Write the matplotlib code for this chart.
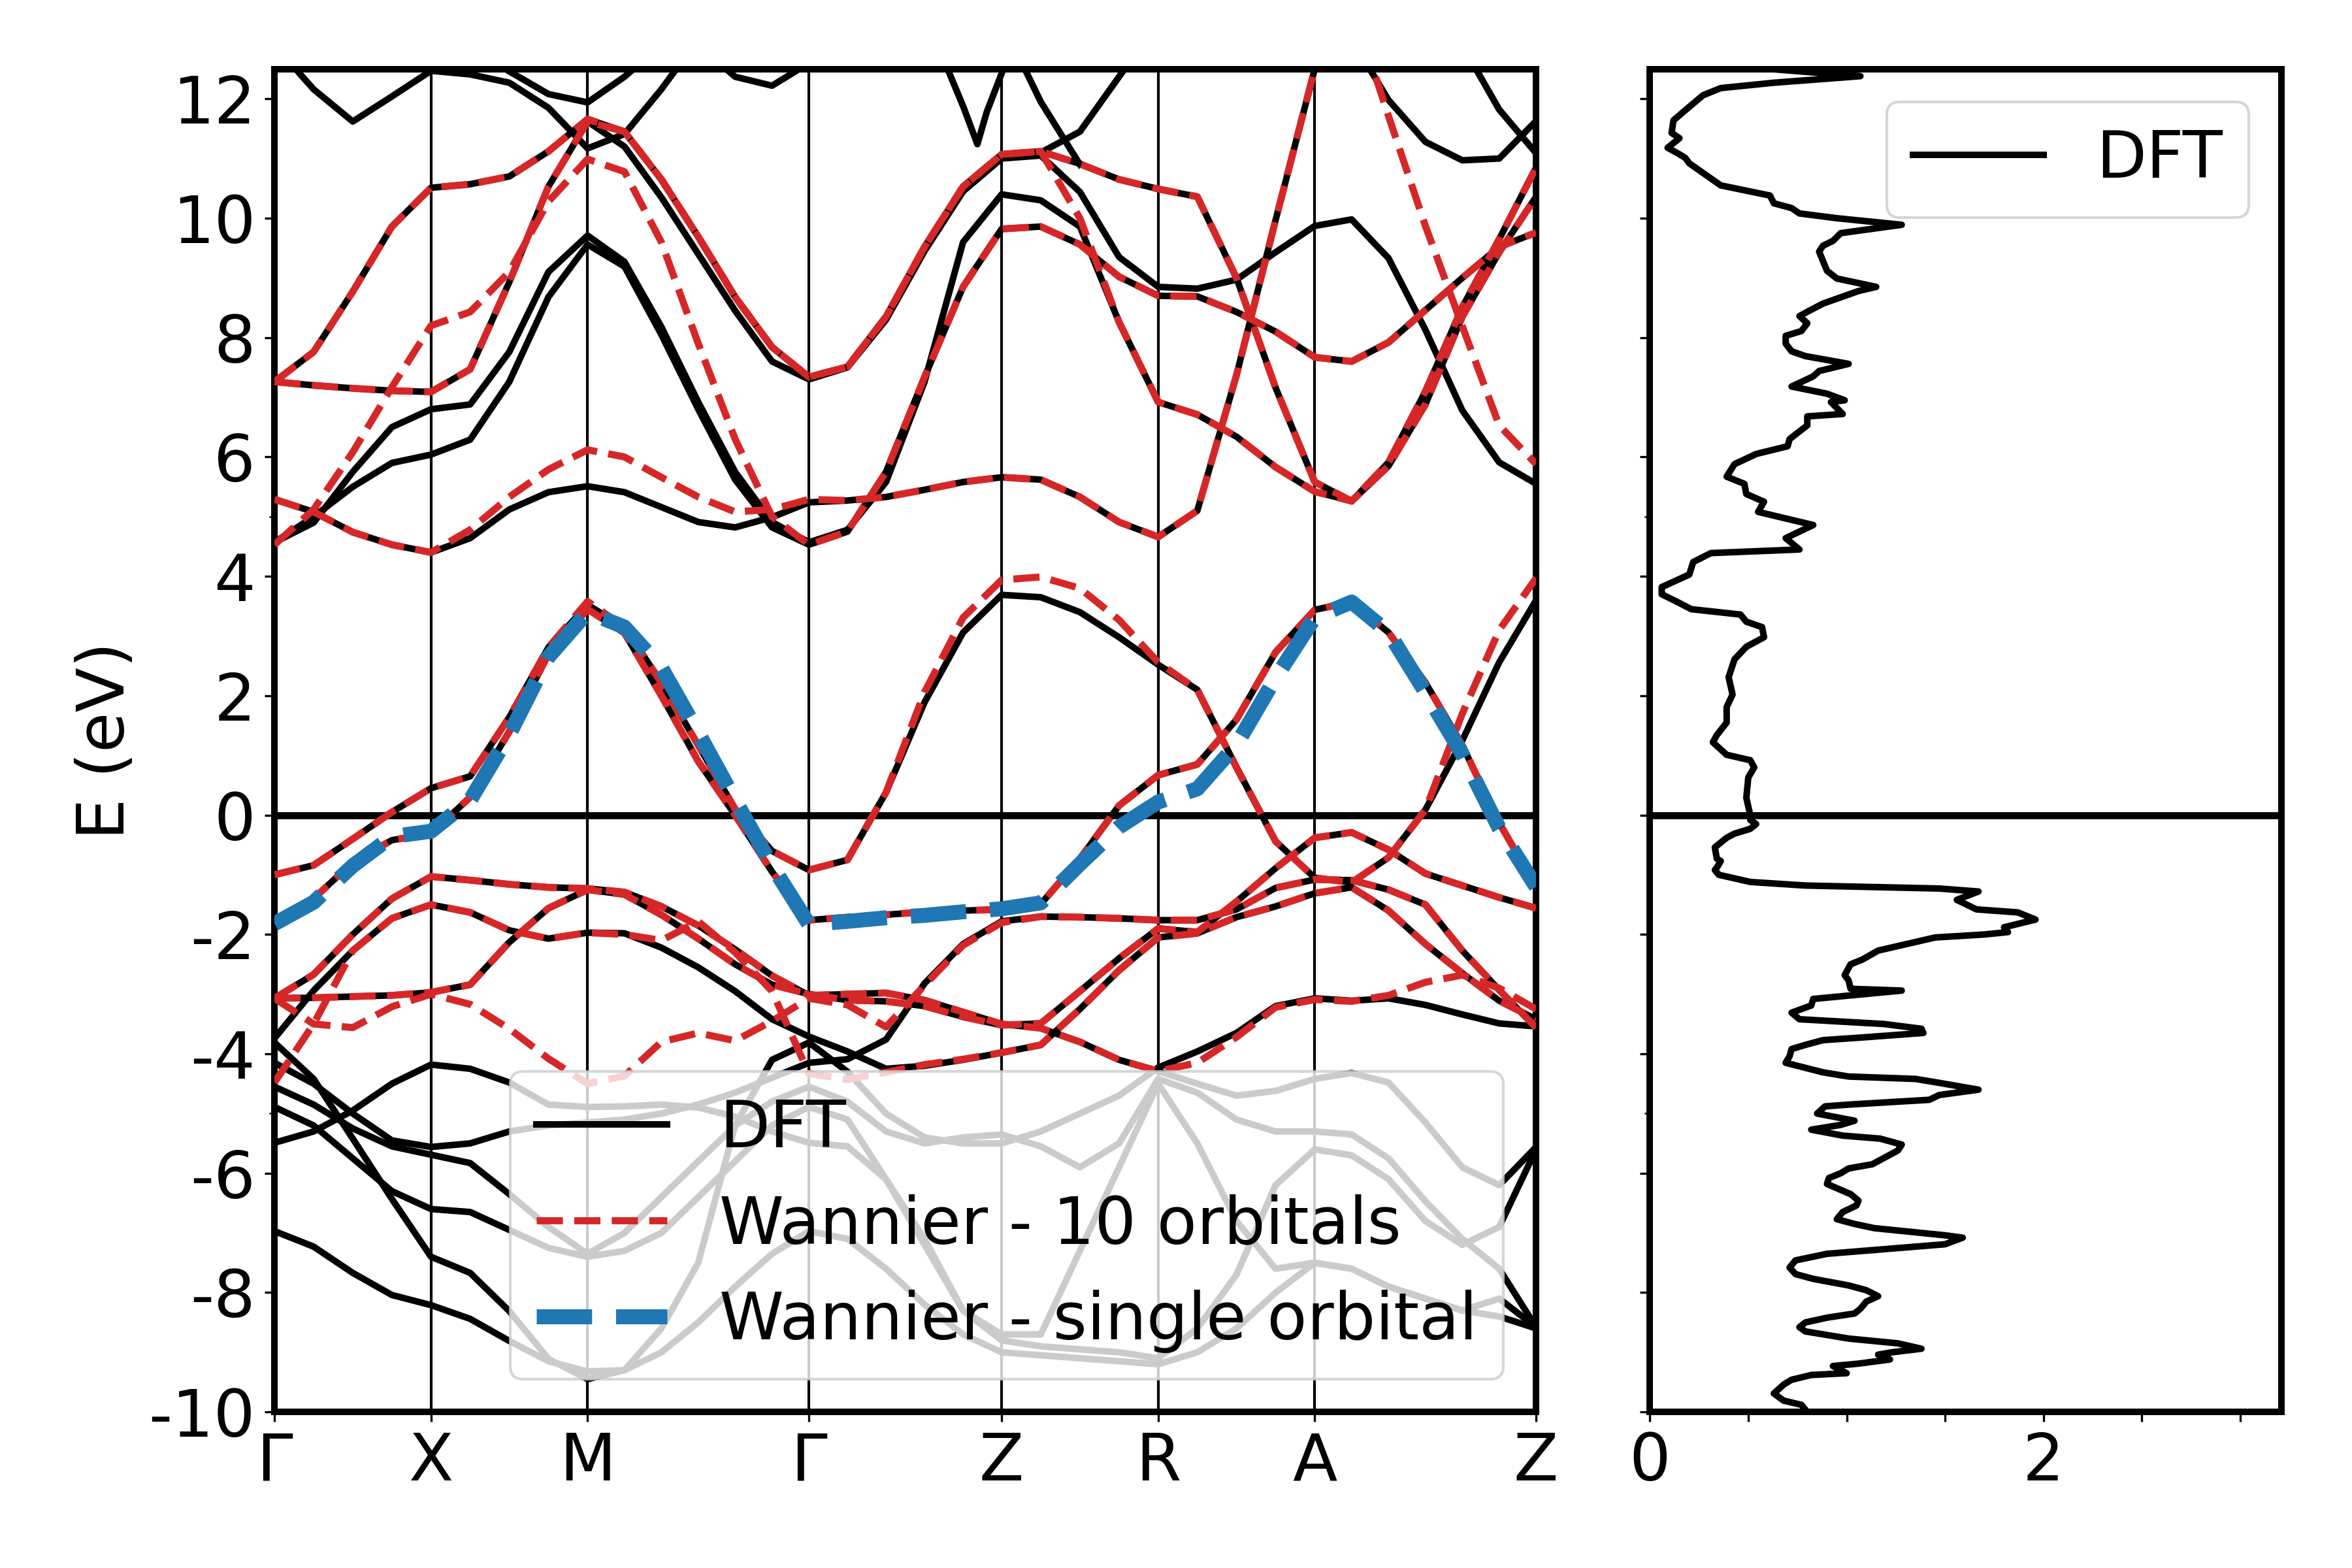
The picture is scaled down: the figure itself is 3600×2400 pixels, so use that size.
import numpy as np
import matplotlib
matplotlib.use('Agg')
import matplotlib.pyplot as plt

plt.rcParams['font.family'] = ['DejaVu Sans']
plt.rcParams['axes.unicode_minus'] = False
plt.rcParams['font.size'] = 24

nan = float('nan')

# ---------------- k-path ----------------
kpath_labels = ['Γ', 'X', 'M', 'Γ', 'Z', 'R', 'A', 'Z']
kpath_lengths = [1.0, 1.0, 1.414, 1.231, 1.0, 1.0, 1.414]
kpath_divisions = [4, 4, 6, 5, 4, 4, 6]

# ---------------- DFT bands (eV) on the k grid ----------------
# order per list: Γ-X (5) | X-M (4) | M-Γ (6) | Γ-Z (5) | Z-R (4) | R-A (4) | A-Z (6)
dft_alpha = [-1.0, -0.84, -0.4, 0.05, 0.45, 0.65, 1.64, 2.81, 3.52, 3.15, 2.22, 1.17, 0.1, -0.6, -0.92, -0.75, 0.38, 1.89, 3.06, 3.69, 3.65, 3.4, 2.98, 2.52, 2.1, 0.8, -0.44, -1.05, -1.13, -0.71, 0.09, 1.25, 2.56, 3.6]
dft_beta = [-1.78, -1.4, -0.79, -0.42, -0.31, 0.3, 1.4, 2.7, 3.45, 3.05, 2.0, 0.9, 0.0, -0.95, -1.76, -1.71, -1.67, -1.62, -1.6, -1.58, -1.49, -0.73, 0.16, 0.67, 0.85, 1.6, 2.73, 3.44, 3.57, 3.06, 2.22, 1.17, -0.13, -1.2]
dft_g1 = [-3.07, -2.67, -2.0, -1.4, -1.03, -1.09, -1.16, -1.21, -1.23, -1.29, -1.53, -1.85, -2.25, -2.69, -3.02, -3.0, -2.98, -3.1, -3.3, -3.5, -3.57, -3.8, -4.1, -4.29, -4.5, -4.7, -4.62, -4.42, -4.32, -4.48, -5.15, -5.9, -6.2, -5.56]
dft_g3 = [-3.07, -3.06, -3.04, -3.02, -2.97, -2.84, -2.13, -1.56, -1.25, -1.33, -1.67, -2.07, -2.5, -2.84, -3.0, -3.1, -3.12, -3.2, -3.38, -3.52, -3.49, -2.95, -2.4, -1.9, -1.96, -1.45, -0.89, -0.38, -0.29, -0.58, -0.98, -1.18, -1.38, -1.56]
dft_g2 = [-3.74, -2.94, -2.27, -1.73, -1.5, -1.63, -1.93, -2.07, -1.97, -1.98, -2.22, -2.55, -2.95, -3.42, -3.71, -3.96, -4.25, -4.2, -4.1, -3.98, -3.85, -3.25, -2.6, -2.05, -1.98, -1.71, -1.53, -1.31, -1.21, -1.6, -2.16, -2.65, -3.11, -3.42]
dft_lc = [-4.15, -4.5, -5.0, -5.45, -5.56, -5.5, -5.3, -5.2, -5.15, -5.1, -5.0, -4.85, -4.65, -4.4, -4.15, -4.09, -3.76, -2.82, -2.16, -1.78, -1.7, -1.71, -1.73, -1.76, -1.76, -1.58, -1.22, -1.08, -1.09, -1.25, -1.5, -2.27, -2.93, -3.56]
dft_lb = [-3.81, -4.42, -5.42, -6.43, -7.4, -7.67, -8.31, -9.11, -9.45, -9.3, -8.6, -7.5, -5.2, -4.1, -3.81, -4.3, -5.0, -5.4, -5.5, -5.5, -5.3, -5.0, -4.7, -4.23, -3.96, -3.65, -3.2, -3.07, -3.11, -3.07, -3.18, -3.34, -3.49, -3.54]
dft_ld = [-4.55, -4.85, -5.25, -5.55, -5.69, -5.83, -6.35, -6.9, -7.35, -7.0, -6.4, -5.8, -5.2, -4.8, -4.55, -4.8, -5.3, -5.5, -5.4, -5.35, -5.55, -5.9, -5.5, -4.42, -4.65, -5.1, -5.3, -5.3, -5.35, -5.75, -6.47, -7.1, -7.6, -8.58]
dft_le = [-5.49, -5.3, -4.95, -4.5, -4.18, -4.25, -4.48, -4.85, -4.89, -4.88, -4.85, -4.9, -5.05, -5.3, -5.49, -5.55, -6.1, -7.1, -8.3, -8.7, -8.7, -7.3, -5.9, -4.5, -5.5, -6.8, -7.6, -7.5, -7.6, -7.9, -8.1, -8.3, -8.4, -8.6]
dft_lf = [-4.89, -5.2, -5.75, -6.3, -6.6, -6.65, -6.95, -7.25, -7.4, -7.3, -7.0, -6.4, -5.8, -5.2, -4.89, -5.1, -6.1, -7.2, -8.3, -8.8, -8.9, -8.95, -9.0, -9.1, -8.6, -7.7, -6.2, -5.6, -5.7, -6.1, -6.8, -7.2, -6.9, -5.6]
dft_lg = [-6.97, -7.23, -7.67, -8.04, -8.21, -8.44, -8.81, -9.15, -9.32, -9.3, -9.0, -8.5, -7.9, -7.35, -6.97, -7.1, -7.6, -8.2, -8.7, -9.0, -9.05, -9.1, -9.15, -9.2, -9.0, -8.6, -8.0, -7.5, -7.6, -7.9, -8.1, -8.3, -8.1, -8.58]
dft_ua = [7.26, 7.76, 8.77, 9.86, 10.51, 10.57, 10.7, 11.12, 11.66, 11.45, 10.65, 9.69, 8.68, 7.84, 7.34, 7.51, 8.35, 9.52, 10.53, 11.07, 11.12, 10.91, 10.65, 10.49, 10.36, 9.0, 7.16, 5.58, 5.26, 5.91, 7.1, 8.51, 9.65, 10.85]
dft_ub = [7.26, 7.2, 7.15, 7.11, 7.09, 7.47, 8.93, 10.53, 11.62, 11.2, 10.35, 9.4, 8.45, 7.6, 7.3, 7.5, 8.3, 9.45, 10.45, 11.0, 11.05, 10.44, 9.35, 8.85, 8.82, 8.97, 9.43, 9.87, 9.98, 9.33, 8.13, 6.78, 5.91, 5.55]
dft_ud1 = [4.57, 4.9, 5.75, 6.5, 6.8, 6.88, 7.76, 9.1, 9.71, 9.27, 8.18, 6.92, 5.75, 4.91, 4.57, 4.78, 5.58, 7.26, 9.6, 10.4, 10.3, 9.86, 8.26, 6.92, 6.71, 6.34, 5.83, 5.42, 5.26, 5.85, 6.88, 8.35, 9.43, 10.36]
dft_ud2 = [4.57, 5.0, 5.5, 5.9, 6.04, 6.29, 7.26, 8.68, 9.56, 9.19, 8.05, 6.8, 5.62, 4.82, 4.53, 4.75, 5.75, 7.34, 8.85, 9.82, 9.86, 9.56, 9.02, 8.7, 8.69, 8.43, 8.1, 7.67, 7.6, 7.92, 8.46, 9.0, 9.52, 9.76]
dft_ue = [5.29, 5.08, 4.74, 4.53, 4.4, 4.64, 5.12, 5.41, 5.51, 5.41, 5.16, 4.91, 4.82, 4.99, 5.24, 5.27, 5.33, 5.45, 5.58, 5.66, 5.62, 5.33, 4.91, 4.66, 5.1, 7.37, 9.97, 12.5, 13.6, nan, nan, nan, nan, nan]
dft_uf = [12.9, 12.16, 11.62, 12.04, 12.47, 12.41, 12.27, 11.85, 11.17, 11.41, 12.16, 13.0, nan, nan, nan, nan, nan, nan, nan, nan, nan, nan, nan, nan, nan, nan, nan, nan, nan, nan, nan, nan, nan, nan]
dft_ug = [nan, nan, nan, nan, nan, 12.9, 12.46, 12.08, 11.94, 12.37, 12.9, nan, nan, nan, nan, nan, nan, nan, nan, nan, nan, nan, nan, nan, nan, nan, nan, nan, nan, nan, nan, nan, nan, nan]
dft_uh = [nan, nan, nan, nan, nan, nan, nan, nan, nan, nan, nan, 12.9, 12.37, 12.22, 12.6, 13.0, nan, nan, nan, nan, nan, nan, nan, nan, nan, nan, nan, nan, nan, nan, nan, nan, nan, nan]
dft_topz = [nan, nan, nan, nan, nan, nan, nan, nan, nan, nan, nan, nan, nan, nan, nan, nan, nan, nan, nan, 13.3, 11.95, 10.9, nan, nan, nan, nan, nan, nan, nan, nan, nan, nan, nan, nan]
dft_k9 = [nan, nan, nan, nan, nan, nan, nan, nan, nan, nan, nan, nan, nan, nan, nan, nan, nan, nan, nan, nan, 11.1, 11.45, 12.37, 13.3, nan, nan, nan, nan, nan, nan, nan, nan, nan, nan]
dft_k7 = [nan, nan, nan, nan, nan, nan, nan, nan, nan, nan, nan, nan, nan, nan, nan, nan, nan, nan, nan, nan, nan, nan, nan, nan, nan, nan, nan, 13.6, 13.0, 11.98, 11.28, 10.97, 11.0, 11.63]
dft_k8 = [nan, nan, nan, nan, nan, nan, nan, nan, nan, nan, nan, nan, nan, nan, nan, nan, nan, nan, nan, nan, nan, nan, nan, nan, nan, nan, nan, nan, nan, nan, nan, 12.9, 11.82, 11.09]
# narrow V-shaped band near Z (own k points)
dft_kv_k = [4.23, 4.30, 4.40, 4.49, 4.55, 4.65, 4.70]
dft_kv_e = [13.0, 12.5, 11.87, 11.24, 11.78, 12.46, 12.9]

# ---------------- Wannier, 10 orbitals ----------------
wan_alpha = [-1.0, -0.84, -0.4, 0.05, 0.45, 0.65, 1.64, 2.81, 3.58, 3.15, 2.22, 1.17, 0.1, -0.6, -0.92, -0.75, 0.38, 2.06, 3.31, 3.94, 3.99, 3.8, 3.27, 2.56, 2.1, 0.8, -0.44, -1.05, -1.13, -0.71, 0.09, 1.7, 3.1, 3.97]
wan_beta = [-1.78, -1.4, -0.79, -0.42, -0.31, 0.3, 1.4, 2.7, 3.45, 3.05, 2.0, 0.9, 0.0, -0.95, -1.76, -1.71, -1.67, -1.62, -1.6, -1.58, -1.49, -0.73, 0.16, 0.67, 0.85, 1.6, 2.73, 3.44, 3.57, 3.06, 2.22, 1.17, -0.13, -1.2]
wan_g1 = [-3.07, -2.67, -2.0, -1.4, -1.03, -1.09, -1.16, -1.21, -1.23, -1.29, -1.53, -1.85, -2.25, -2.69, -3.02, -3.0, -2.98, -3.1, -3.3, -3.5, -3.57, -3.8, -4.1, -4.29, -4.15, -3.72, -3.22, -3.09, -3.12, -3.02, -2.8, -2.68, -2.9, -3.25]
wan_g3 = [-3.07, -3.06, -3.04, -3.02, -2.97, -2.84, -2.13, -1.56, -1.25, -1.33, -1.67, -2.07, -2.5, -2.84, -3.0, -3.1, -3.12, -3.2, -3.38, -3.52, -3.49, -2.95, -2.4, -1.9, -1.96, -1.45, -0.89, -0.38, -0.29, -0.58, -0.98, -1.18, -1.38, -1.56]
wan_g2 = [-4.48, -3.5, -2.27, -1.73, -1.5, -1.63, -1.93, -2.07, -1.97, -2.0, -2.1, -1.78, -2.3, -2.95, -4.33, -4.43, -4.31, -4.18, -4.09, -3.98, -3.85, -3.25, -2.6, -2.05, -1.98, -1.71, -1.53, -1.31, -1.21, -1.6, -2.16, -2.65, -3.11, -3.42]
wan_r4 = [-3.07, -3.5, -3.56, -3.21, -3.0, -3.17, -3.58, -4.08, -4.5, -4.37, -3.8, -3.65, -3.78, -3.45, -3.07, -3.18, -3.55, -2.85, -2.18, -1.8, -1.7, -1.71, -1.73, -1.76, -1.76, -1.58, -1.22, -1.08, -1.09, -1.25, -1.5, -2.27, -2.93, -3.56]
wan_ua = [7.26, 7.76, 8.77, 9.86, 10.51, 10.57, 10.7, 11.12, 11.66, 11.45, 10.65, 9.69, 8.68, 7.84, 7.34, 7.51, 8.35, 9.52, 10.53, 11.07, 11.12, 10.91, 10.65, 10.49, 10.36, 9.0, 7.16, 5.58, 5.26, 5.91, 7.1, 8.51, 9.65, 10.85]
wan_ub = [7.26, 7.2, 7.15, 7.11, 7.09, 7.47, 8.93, 10.53, 11.62, 11.45, 10.65, 9.69, 8.68, 7.84, 7.34, 7.51, 8.35, 9.52, 10.53, 11.07, 11.12, 10.0, 8.26, 6.92, 6.71, 6.34, 5.83, 5.42, 5.26, 5.85, 6.88, 8.35, 9.43, 10.36]
wan_uc = [4.53, 5.12, 6.08, 7.17, 8.2, 8.43, 9.1, 10.28, 10.99, 10.78, 9.6, 7.9, 6.3, 5.0, 4.53, 4.75, 5.75, 7.34, 8.85, 9.82, 9.86, 9.56, 9.02, 8.7, 8.69, 8.43, 8.1, 7.67, 7.6, 7.92, 8.46, 9.0, 9.52, 9.76]
wan_ue = [5.29, 5.08, 4.74, 4.53, 4.4, 4.78, 5.33, 5.79, 6.12, 6.0, 5.66, 5.33, 5.08, 5.12, 5.29, 5.27, 5.33, 5.45, 5.58, 5.66, 5.62, 5.33, 4.91, 4.66, 5.1, 7.37, 9.97, 12.5, 13.6, 11.71, 9.87, 8.19, 6.53, 5.88]

# ---------------- Wannier, single orbital ----------------
wan_single = [-1.82, -1.46, -0.85, -0.36, -0.27, 0.25, 1.35, 2.65, 3.4, 3.15, 2.47, 1.38, 0.25, -0.85, -1.83, -1.78, -1.72, -1.68, -1.62, -1.57, -1.47, -0.82, -0.2, 0.22, 0.44, 1.18, 2.3, 3.31, 3.57, 3.06, 2.06, 1.02, -0.22, -1.2]

# ---------------- DOS (energy, DOS) ----------------
dos_curve = [
    (12.5, 0.61), (12.38, 1.07), (12.27, 0.63), (12.18, 0.36), (12.06, 0.27), (11.81, 0.18), (11.64, 0.12), (11.43, 0.11),
    (11.34, 0.15), (11.18, 0.09), (11.09, 0.14), (11.01, 0.18), (10.92, 0.2), (10.55, 0.36), (10.38, 0.61), (10.25, 0.63),
    (10.17, 0.72), (10.08, 0.76), (10.0, 0.95), (9.89, 1.28), (9.75, 0.97), (9.62, 0.93), (9.54, 0.88), (9.44, 0.86),
    (9.2, 0.89), (9.12, 0.9), (8.99, 0.95), (8.85, 1.15), (8.78, 1.06), (8.57, 0.88), (8.45, 0.81), (8.36, 0.76),
    (8.24, 0.8), (8.11, 0.77), (8.03, 0.69), (7.9, 0.69), (7.77, 0.72), (7.69, 0.79), (7.56, 1.01), (7.44, 0.86),
    (7.35, 0.83), (7.18, 0.72), (7.06, 0.9), (6.95, 0.99), (6.92, 0.92), (6.72, 0.98), (6.68, 0.8), (6.53, 0.8),
    (6.3, 0.71), (6.18, 0.7), (6.05, 0.54), (5.88, 0.43), (5.67, 0.39), (5.55, 0.48), (5.38, 0.49), (5.25, 0.58),
    (5.08, 0.55), (4.86, 0.83), (4.64, 0.69), (4.45, 0.76), (4.39, 0.31), (4.24, 0.22), (4.03, 0.2), (3.82, 0.06),
    (3.7, 0.06), (3.57, 0.14), (3.45, 0.21), (3.36, 0.46), (3.24, 0.49), (3.15, 0.57), (2.98, 0.58), (2.82, 0.49),
    (2.61, 0.43), (2.31, 0.4), (2.02, 0.42), (1.81, 0.39), (1.55, 0.39), (1.34, 0.34), (1.22, 0.32), (1.01, 0.39),
    (0.92, 0.51), (0.8, 0.53), (0.63, 0.5), (0.29, 0.49), (0.0, 0.51), (-0.08, 0.51), (-0.15, 0.54), (-0.23, 0.51),
    (-0.31, 0.43), (-0.38, 0.39), (-0.54, 0.33), (-0.73, 0.34), (-0.77, 0.36), (-0.88, 0.34), (-0.92, 0.33), (-1.0, 0.35),
    (-1.12, 0.51), (-1.18, 0.79), (-1.23, 1.47), (-1.28, 1.67), (-1.42, 1.56), (-1.58, 1.66), (-1.63, 1.87), (-1.75, 1.96),
    (-1.88, 1.8), (-1.96, 1.82), (-2.0, 1.7), (-2.05, 1.45), (-2.27, 1.16), (-2.42, 1.08), (-2.5, 1.02), (-2.68, 0.99),
    (-2.77, 1.01), (-2.91, 1.02), (-2.94, 1.28), (-3.08, 0.83), (-3.19, 0.82), (-3.31, 0.72), (-3.42, 0.76), (-3.5, 1.19),
    (-3.58, 1.38), (-3.65, 1.39), (-3.73, 1.06), (-3.77, 0.88), (-3.85, 0.79), (-3.92, 0.72), (-4.04, 0.71), (-4.15, 0.69),
    (-4.31, 0.88), (-4.38, 1.01), (-4.42, 1.35), (-4.48, 1.46), (-4.6, 1.67), (-4.69, 1.47), (-4.77, 1.42), (-4.85, 1.01),
    (-4.88, 0.89), (-5.0, 0.85), (-5.12, 1.04), (-5.19, 0.97), (-5.27, 0.82), (-5.37, 0.98), (-5.42, 1.17), (-5.52, 1.28),
    (-5.62, 1.26), (-5.85, 1.13), (-5.92, 1.01), (-6.0, 0.97), (-6.08, 0.91), (-6.18, 0.9), (-6.35, 1.02), (-6.46, 1.06),
    (-6.54, 1.05), (-6.65, 0.98), (-6.77, 0.95), (-6.85, 1.04), (-6.92, 1.14), (-7.04, 1.5), (-7.08, 1.59), (-7.19, 1.5),
    (-7.35, 0.9), (-7.46, 0.74), (-7.58, 0.71), (-7.69, 0.74), (-7.77, 0.83), (-7.88, 1.01), (-7.96, 1.1), (-8.06, 1.16),
    (-8.15, 1.1), (-8.27, 1.07), (-8.35, 1.04), (-8.42, 0.9), (-8.5, 0.79), (-8.58, 0.76), (-8.65, 0.79), (-8.77, 1.01),
    (-8.85, 1.26), (-8.94, 1.38), (-9.0, 1.23), (-9.04, 1.16), (-9.12, 1.22), (-9.19, 1.06), (-9.23, 0.93), (-9.35, 1.0),
    (-9.38, 0.82), (-9.46, 0.72), (-9.54, 0.68), (-9.69, 0.63), (-9.81, 0.68), (-9.88, 0.77), (-9.96, 0.79),
]

# ---------------- build k grid from path ----------------
k_nodes = np.concatenate([[0.0], np.cumsum(kpath_lengths)])
kgrid = [0.0]
for a, b, n in zip(k_nodes[:-1], k_nodes[1:], kpath_divisions):
    kgrid.extend(np.linspace(a, b, n + 1)[1:])
kgrid = np.array(kgrid)

dft_bands = [dft_alpha, dft_beta, dft_g1, dft_g3, dft_g2, dft_lc, dft_lb, dft_ld, dft_le, dft_lf, dft_lg,
             dft_ua, dft_ub, dft_ud1, dft_ud2, dft_ue, dft_uf, dft_ug, dft_uh, dft_topz, dft_k9, dft_k7, dft_k8]
wan_bands = [wan_alpha, wan_beta, wan_g1, wan_g3, wan_g2, wan_r4, wan_ua, wan_ub, wan_uc, wan_ue]

RED = '#d62728'
BLUE = '#1f77b4'

fig = plt.figure(figsize=(12, 8), dpi=300)
ax = fig.add_axes([0.1167, 0.0995, 0.5364, 0.8565])
axd = fig.add_axes([0.7015, 0.0995, 0.2685, 0.8565])

for kx in k_nodes[1:-1]:
    ax.axvline(kx, color='k', lw=1.0, zorder=1)
ax.axhline(0, color='k', lw=2.6, zorder=1.5)

for i, band in enumerate(dft_bands):
    ax.plot(kgrid, band, color='k', lw=2.4, zorder=2, label='DFT' if i == 0 else None)
ax.plot(dft_kv_k, dft_kv_e, color='k', lw=2.4, zorder=2)
for i, band in enumerate(wan_bands):
    ax.plot(kgrid, band, color=RED, ls='--', lw=2.6, zorder=3,
            label='Wannier - 10 orbitals' if i == 0 else None)
ax.plot(kgrid, wan_single, color=BLUE, ls='--', lw=5.5, zorder=4, label='Wannier - single orbital')

ax.set_xlim(0, k_nodes[-1])
ax.set_ylim(-10, 12.5)
ax.set_xticks(k_nodes)
ax.set_xticklabels(kpath_labels)
ax.set_yticks(np.arange(-10, 13, 2))
ax.set_yticks([-5, 5], minor=True)
ax.set_ylabel('E (eV)')
for s in ax.spines.values():
    s.set_linewidth(2.4)
ax.legend(loc='lower right', fontsize=24)

# DOS panel
dos_energy = [p[0] for p in dos_curve]
dos_value = [p[1] for p in dos_curve]
axd.axhline(0, color='k', lw=2.6, zorder=1.5)
axd.plot(dos_value, dos_energy, color='k', lw=2.4, label='DFT')
axd.set_ylim(-10, 12.5)
axd.set_xlim(0, 3.21)
axd.set_yticks(np.arange(-10, 13, 2))
axd.set_yticks([-5, 5], minor=True)
axd.tick_params(axis='y', labelleft=False)
axd.set_xticks(np.arange(0, 3.01, 0.5))
axd.set_xticklabels(['0', '', '', '', '2', '', ''])
for s in axd.spines.values():
    s.set_linewidth(2.4)
axd.legend(loc='upper right', fontsize=24)

fig.savefig('out.png', dpi=300)
